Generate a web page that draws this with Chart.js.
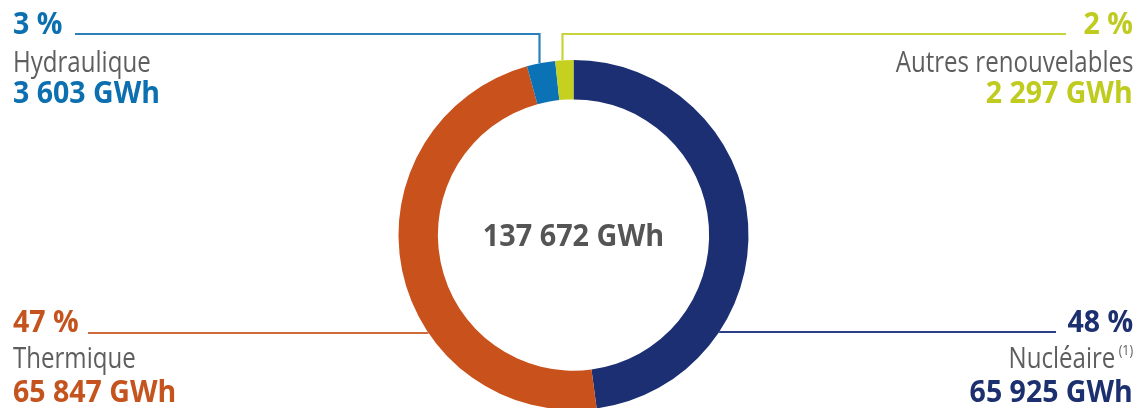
<!DOCTYPE html>
<html>
<head>
<meta charset="utf-8">
<script src="https://cdn.jsdelivr.net/npm/chart.js@4.4.1/dist/chart.umd.min.js"></script>
<style>
  html, body { margin: 0; padding: 0; background: #fff; overflow: hidden; }
  #wrap { position: relative; width: 1138px; height: 408px; overflow: hidden; }
  #mix-chart { position: absolute; left: 0; top: 0; }
  .lbl { position: absolute; white-space: nowrap; line-height: 1; font-family: 'Open Sans', sans-serif; }
  .lbl.bold { font-weight: 700; font-size: 30px; }
  .lbl.name { font-weight: 400; font-size: 29px; color: #5e5e5e; }
  .lbl.left { transform-origin: left top; }
  .lbl.right { transform-origin: right top; }
  .lbl sup { font-size: 15px; vertical-align: 0; position: relative; top: -13px; margin-left: 4px; }
  #total { position: absolute; white-space: nowrap; line-height: 1; font-family: 'Open Sans', sans-serif;
           font-weight: 700; font-size: 30px; color: #555; transform-origin: center top; }
</style>
</head>
<body>
<div id="wrap">
  <canvas id="mix-chart" width="1138" height="420"></canvas>
</div>
<script>
// ---- data ----
const categories = ['Nucléaire', 'Thermique', 'Hydraulique', 'Autres renouvelables'];
const energyGWh  = [65925, 65847, 3603, 2297];
const pctLabels  = [48, 47, 3, 2];
const footnotes  = ['(1)', '', '', ''];
const unit = 'GWh';

const sliceColors = ['#1b2f72', '#c9521c', '#0c72b6', '#c6d11f'];
const textColors  = ['#1c2f6e', '#c4531d', '#0b6fb0', '#bfcb1f'];
const lineColors  = ['#2a3f86', '#cf6a3a', '#2a80bd', '#c9d33a'];

// where each label block sits (corner + baselines of the 3 lines)
const labelSpots = [
  { side: 'right', baselines: [333, 368, 403], lineY: 332, lineEnd: 1056, kind: 'side' },
  { side: 'left',  baselines: [333, 368, 403], lineY: 333, lineEnd: 88,   kind: 'side' },
  { side: 'left',  baselines: [35, 72, 104],   lineY: 34,  lineEnd: 75,   kind: 'top' },
  { side: 'right', baselines: [35, 72, 104],   lineY: 34,  lineEnd: 1066, kind: 'top' },
];

const fmt = n => String(n).replace(/\B(?=(\d{3})+(?!\d))/g, ' ');
const total = energyGWh.reduce((a, b) => a + b, 0);

// leader lines from the ring to the label rows
const leaderLines = {
  id: 'leaderLines',
  afterDatasetsDraw(chart) {
    const ctx = chart.ctx;
    const arcs = chart.getDatasetMeta(0).data;
    ctx.save();
    ctx.lineWidth = 2.2;
    arcs.forEach((arc, i) => {
      const p = arc.getProps(['x', 'y', 'startAngle', 'endAngle', 'outerRadius'], true);
      const s = labelSpots[i];
      ctx.strokeStyle = lineColors[i];
      ctx.beginPath();
      if (s.kind === 'top') {
        const mid = (p.startAngle + p.endAngle) / 2;
        const ax = Math.round(p.x + Math.cos(mid) * p.outerRadius) - 1.5;
        const ay = p.y + Math.sin(mid) * p.outerRadius;
        ctx.moveTo(ax, ay);
        ctx.lineTo(ax, s.lineY);
        ctx.lineTo(s.lineEnd, s.lineY);
      } else {
        const dy = s.lineY - p.y;
        const dx = Math.sqrt(Math.max(p.outerRadius * p.outerRadius - dy * dy, 0));
        const ax = p.x + (s.side === 'left' ? -dx : dx);
        ctx.moveTo(ax, s.lineY);
        ctx.lineTo(s.lineEnd, s.lineY);
      }
      ctx.stroke();
    });
    ctx.restore();
  }
};

new Chart(document.getElementById('mix-chart'), {
  type: 'doughnut',
  data: {
    labels: categories,
    datasets: [{
      data: energyGWh,
      backgroundColor: sliceColors,
      borderWidth: 0,
    }],
  },
  options: {
    responsive: false,
    animation: false,
    devicePixelRatio: 1,
    cutout: '77.5%',
    layout: { padding: { left: 398.5, right: 389.5, top: 60, bottom: 10 } },
    plugins: { legend: { display: false }, tooltip: { enabled: false } },
  },
  plugins: [leaderLines],
});

// ---- html labels ----
const wrap = document.getElementById('wrap');
function addLine(html, cls, side, baseline, size, color, sx) {
  const d = document.createElement('div');
  d.className = 'lbl ' + cls + ' ' + side;
  d.innerHTML = html;
  if (color) d.style.color = color;
  d.style.top = (baseline - 0.888 * size) + 'px';
  if (side === 'left') d.style.left = '13px';
  else d.style.right = (1138 - 1133) + 'px';
  d.style.transform = 'scaleX(' + sx + ')';
  wrap.appendChild(d);
}
categories.forEach((name, i) => {
  const s = labelSpots[i];
  addLine(pctLabels[i] + ' %', 'bold', s.side, s.baselines[0], 30, textColors[i], 0.95);
  addLine(name + (footnotes[i] ? '<sup>' + footnotes[i] + '</sup>' : ''), 'name', s.side, s.baselines[1], 29, null, 0.83);
  addLine(fmt(energyGWh[i]) + ' ' + unit, 'bold', s.side, s.baselines[2], 30, textColors[i], 0.95);
});

const t = document.createElement('div');
t.id = 'total';
t.textContent = fmt(total) + ' ' + unit;
wrap.appendChild(t);
const w = t.offsetWidth;
t.style.left = (573 - w / 2) + 'px';
t.style.top = (247 - 0.888 * 30) + 'px';
t.style.transform = 'scaleX(0.96)';
</script>
</body>
</html>
